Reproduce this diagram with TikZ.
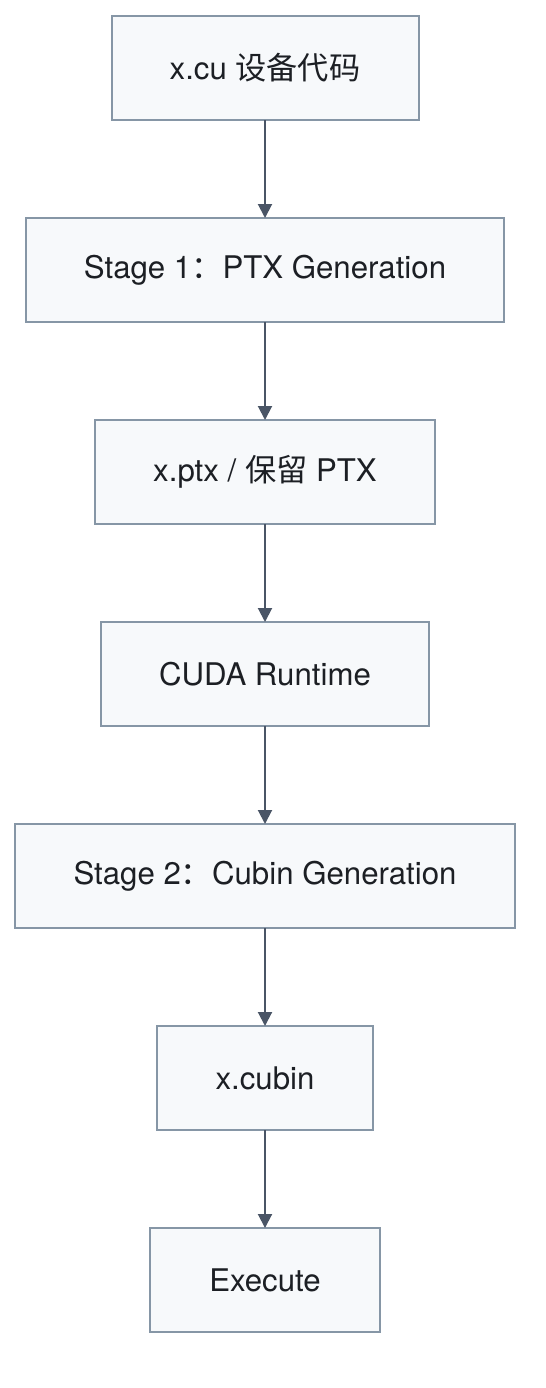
\documentclass[tikz,border=0pt]{standalone}
\usepackage{fontspec}
\setmainfont{TeX Gyre Heros}
\newfontfamily\cjk{Noto Sans CJK SC}
\usetikzlibrary{arrows.meta,positioning}
\definecolor{boxfill}{HTML}{F7F9FB}
\definecolor{boxline}{HTML}{8696A6}
\definecolor{flowink}{HTML}{4A5566}
\definecolor{textink}{HTML}{1C1F24}

\begin{document}
\begin{tikzpicture}[
  node distance=49pt,
  every node/.style={font=\fontsize{15.6pt}{18pt}\selectfont, textink},
  stagebox/.style={draw=boxline, fill=boxfill, line width=1pt,
    minimum height=52pt, outer sep=0pt, inner sep=0pt},
  flow/.style={flowink, line width=1pt, -{Triangle[length=7pt,width=7pt]}}
]
  \useasboundingbox (0,0) rectangle (273pt,-694pt);

  % ---- the chain of steps ---------------------------------------------
  \node[stagebox, minimum width=153.5pt] (src) at (132.5pt,-34pt)
    {x.cu {\cjk 设备代码}};
  \node[stagebox, minimum width=239pt, below=of src] (ptxgen)
    {Stage 1{\cjk ：}PTX Generation};
  \node[stagebox, minimum width=170pt, below=of ptxgen] (ptx)
    {x.ptx / {\cjk 保留} PTX};
  \node[stagebox, minimum width=164pt, below=of ptx] (runtime)
    {CUDA Runtime};
  \node[stagebox, minimum width=250pt, below=of runtime] (cubingen)
    {Stage 2{\cjk ：}Cubin Generation};
  \node[stagebox, minimum width=108pt, below=of cubingen] (cubin)
    {x.cubin};
  \node[stagebox, minimum width=115pt, below=of cubin] (exec)
    {Execute};

  % ---- arrows between them --------------------------------------------
  \draw[flow] (src) -- (ptxgen);
  \draw[flow] (ptxgen) -- (ptx);
  \draw[flow] (ptx) -- (runtime);
  \draw[flow] (runtime) -- (cubingen);
  \draw[flow] (cubingen) -- (cubin);
  \draw[flow] (cubin) -- (exec);
\end{tikzpicture}
\end{document}
